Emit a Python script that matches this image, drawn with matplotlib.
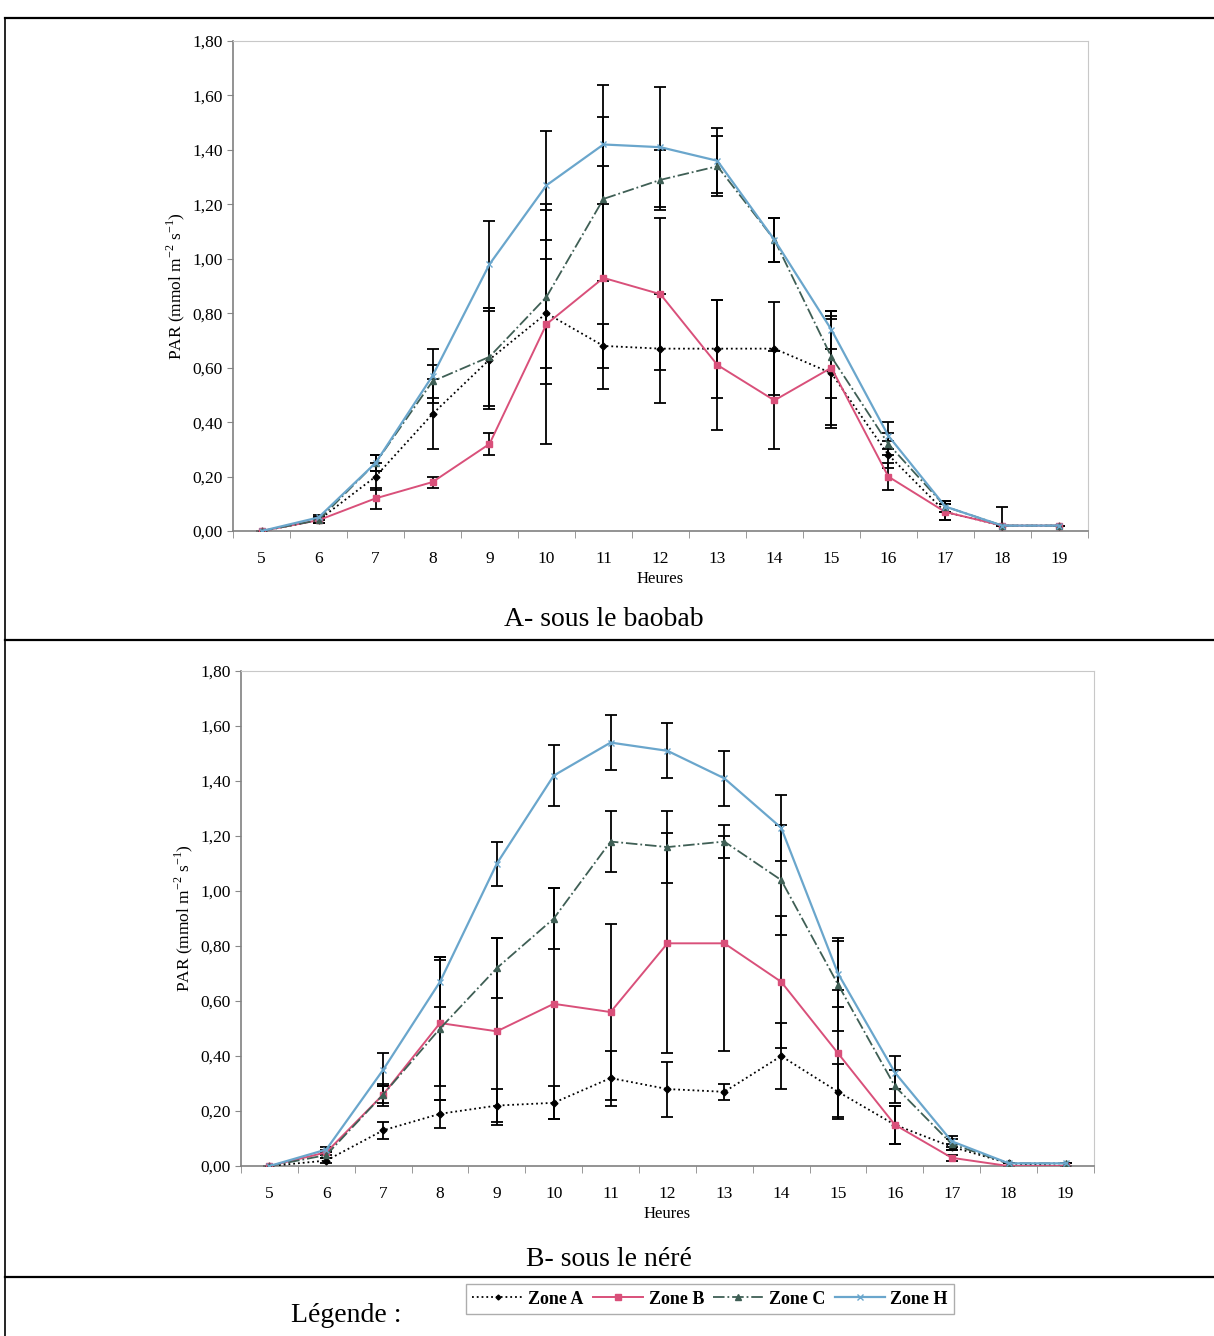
import numpy as np
import matplotlib
matplotlib.use('Agg')
import matplotlib.pyplot as plt
from matplotlib.lines import Line2D
from matplotlib.ticker import FixedLocator, FuncFormatter

plt.rcParams['font.family'] = ['Liberation Serif', 'DejaVu Serif']
plt.rcParams['mathtext.fontset'] = 'custom'
plt.rcParams['mathtext.rm'] = 'Liberation Serif'

hours = [5, 6, 7, 8, 9, 10, 11, 12, 13, 14, 15, 16, 17, 18, 19]

# A - sous le baobab
baobab_A = [0.00, 0.04, 0.20, 0.43, 0.63, 0.80, 0.68, 0.67, 0.67, 0.67, 0.58, 0.28, 0.07, 0.02, 0.02]
baobab_B = [0.00, 0.04, 0.12, 0.18, 0.32, 0.76, 0.93, 0.87, 0.61, 0.48, 0.60, 0.20, 0.07, 0.02, 0.02]
baobab_C = [0.00, 0.04, 0.25, 0.55, 0.64, 0.86, 1.22, 1.29, 1.34, 1.07, 0.64, 0.32, 0.09, 0.02, 0.02]
baobab_H = [0.00, 0.05, 0.25, 0.57, 0.98, 1.27, 1.42, 1.41, 1.36, 1.07, 0.74, 0.35, 0.09, 0.02, 0.02]
baobab_A_err = [0, 0.01, 0.05, 0.13, 0.18, 0.20, 0.08, 0.20, 0.18, 0.17, 0.20, 0.05, 0.03, 0.07, 0]
baobab_B_err = [0, 0.01, 0.04, 0.02, 0.04, 0.44, 0.41, 0.28, 0.24, 0.18, 0.21, 0.05, 0.03, 0, 0]
baobab_C_err = [0, 0.01, 0.03, 0.06, 0.18, 0.32, 0.30, 0.11, 0.11, 0.08, 0.15, 0.04, 0.02, 0, 0]
baobab_H_err = [0, 0.01, 0.03, 0.10, 0.16, 0.20, 0.22, 0.22, 0.12, 0.08, 0.07, 0.05, 0.02, 0, 0]

# B - sous le néré
nere_A = [0.00, 0.02, 0.13, 0.19, 0.22, 0.23, 0.32, 0.28, 0.27, 0.40, 0.27, 0.15, 0.07, 0.01, 0.00]
nere_B = [0.00, 0.05, 0.26, 0.52, 0.49, 0.59, 0.56, 0.81, 0.81, 0.67, 0.41, 0.15, 0.03, 0.00, 0.00]
nere_C = [0.00, 0.04, 0.26, 0.50, 0.72, 0.90, 1.18, 1.16, 1.18, 1.04, 0.66, 0.29, 0.08, 0.01, 0.01]
nere_H = [0.00, 0.06, 0.35, 0.67, 1.10, 1.42, 1.54, 1.51, 1.41, 1.23, 0.70, 0.34, 0.09, 0.01, 0.01]
nere_A_err = [0, 0.01, 0.03, 0.05, 0.06, 0.06, 0.10, 0.10, 0.03, 0.12, 0.10, 0.07, 0.01, 0, 0]
nere_B_err = [0, 0.01, 0.03, 0.23, 0.34, 0.42, 0.32, 0.40, 0.39, 0.24, 0.23, 0.07, 0.01, 0, 0]
nere_C_err = [0, 0.01, 0.04, 0.26, 0.11, 0.11, 0.11, 0.13, 0.06, 0.20, 0.17, 0.06, 0.02, 0, 0]
nere_H_err = [0, 0.01, 0.06, 0.09, 0.08, 0.11, 0.10, 0.10, 0.10, 0.12, 0.12, 0.06, 0.02, 0, 0]

zones = ['Zone A', 'Zone B', 'Zone C', 'Zone H']
styles = {
    'Zone A': dict(color='black', ls=':', marker='D', ms=3.5, lw=1.3),
    'Zone B': dict(color='#d9507a', ls='-', marker='s', ms=5, lw=1.4),
    'Zone C': dict(color='#3f5f55', ls='-.', marker='^', ms=5, lw=1.3),
    'Zone H': dict(color='#6aa6cc', ls='-', marker='x', ms=5, lw=1.6),
}

fig = plt.figure(figsize=(12.14, 13.36), dpi=100)


def fr(v, pos):
    return ('%.2f' % v).replace('.', ',')


def panel(rect, series, errs):
    ax = fig.add_axes(rect)
    for z, y, e in zip(zones, series, errs):
        st = styles[z]
        ax.errorbar(hours, y, yerr=e, fmt='none', ecolor='black', elinewidth=1.3,
                    capsize=4, capthick=1.3, zorder=2)
        ax.plot(hours, y, color=st['color'], ls=st['ls'], lw=st['lw'], marker=st['marker'],
                ms=st['ms'], mec=st['color'], mfc=st['color'], label=z, zorder=3)
    ax.set_xlim(4.5, 19.5)
    ax.set_ylim(0, 1.8)
    ax.set_yticks(np.arange(0, 1.81, 0.2))
    ax.yaxis.set_major_formatter(FuncFormatter(fr))
    ax.set_xticks(hours)
    ax.xaxis.set_minor_locator(FixedLocator(np.arange(4.5, 19.6, 1)))
    ax.tick_params(axis='x', which='major', length=0, labelsize=12.5, pad=14)
    ax.tick_params(axis='x', which='minor', length=5, color='#888888')
    ax.tick_params(axis='y', length=4, color='#888888', labelsize=12.5)
    for s in ['top', 'right']:
        ax.spines[s].set_color('#c8c8c8')
    for s in ['left', 'bottom']:
        ax.spines[s].set_color('#808080')
        ax.spines[s].set_linewidth(1.2)
    ax.set_xlabel('Heures', fontsize=12, labelpad=3)
    ax.set_ylabel(r'PAR (mmol m$^{\mathregular{-2}}$ s$^{\mathregular{-1}}$)', fontsize=12.5)
    return ax


ax1 = panel([0.192, 0.6025, 0.704, 0.3668],
            [baobab_A, baobab_B, baobab_C, baobab_H],
            [baobab_A_err, baobab_B_err, baobab_C_err, baobab_H_err])
ax2 = panel([0.1985, 0.1272, 0.7026, 0.3705],
            [nere_A, nere_B, nere_C, nere_H],
            [nere_A_err, nere_B_err, nere_C_err, nere_H_err])

fig.text(0.497, 1 - 620 / 1336, 'A- sous le baobab', ha='center', va='center', fontsize=20)
fig.text(0.502, 1 - 1259 / 1336, 'B- sous le néré', ha='center', va='center', fontsize=20)
fig.text(0.285, 1 - 1316 / 1336, 'Légende :', ha='center', va='center', fontsize=20)

# panel frames
for y in [1 - 18 / 1336, 1 - 640 / 1336, 1 - 1277 / 1336]:
    fig.add_artist(Line2D([0.004, 1.0], [y, y], color='black', lw=1.6))
fig.add_artist(Line2D([0.004, 0.004], [0, 1 - 18 / 1336], color='black', lw=1.2))

handles = [Line2D([], [], color=styles[z]['color'], ls=styles[z]['ls'], lw=styles[z]['lw'],
                  marker=styles[z]['marker'], ms=styles[z]['ms'] - 1, mfc=styles[z]['color'],
                  mec=styles[z]['color']) for z in zones]
leg = fig.legend(handles, zones, loc='center', bbox_to_anchor=(0.585, 1 - 1299 / 1336), ncol=4,
                 frameon=True, fancybox=False, handlelength=2.8, handletextpad=0.3,
                 columnspacing=0.5, borderpad=0.35, prop={'weight': 'bold', 'size': 13})
leg.get_frame().set_edgecolor('#999999')
leg.get_frame().set_linewidth(1.0)

fig.savefig('out.png', dpi=100)
